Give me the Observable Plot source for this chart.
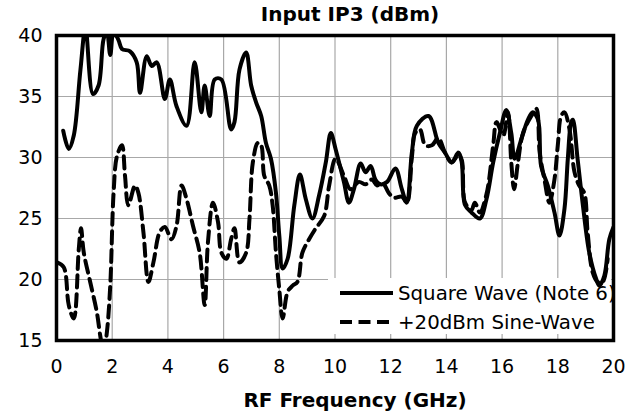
<!DOCTYPE html>
<html>
<head>
<meta charset="utf-8">
<script src="https://cdn.jsdelivr.net/npm/d3@7"></script>
<script src="https://cdn.jsdelivr.net/npm/@observablehq/plot@0.6"></script>
<style>
  html, body { margin: 0; padding: 0; background: white; }
  #chart { width: 643px; height: 419px; }
</style>
</head>
<body>
<div id="chart"></div>
<script>
const title = "Input IP3 (dBm)";
const xLabel = "RF Frequency (GHz)";
const seriesNames = ["Square Wave (Note 6)", "+20dBm Sine-Wave"];
const xTicks = [0, 2, 4, 6, 8, 10, 12, 14, 16, 18, 20];
const yTicks = [15, 20, 25, 30, 35, 40];

// Square wave (solid)
const sqFreq = [0.24,0.44,0.62,0.86,1.04,1.31,1.51,1.69,1.81,1.93,2.05,2.23,2.35,2.64,2.88,3.0,3.24,3.42,3.6,3.89,4.07,4.31,4.67,4.96,5.2,5.32,5.5,5.68,5.92,6.27,6.39,6.57,6.81,6.99,7.17,7.35,7.52,7.7,7.88,8.0,8.12,8.3,8.54,8.74,8.95,9.19,9.43,9.67,9.85,10.02,10.32,10.5,10.68,10.92,11.1,11.28,11.45,11.63,11.87,12.17,12.4,12.58,12.76,12.94,13.36,13.71,13.95,14.19,14.43,14.55,14.67,14.9,15.2,15.44,15.68,15.92,16.15,16.33,16.45,16.69,16.93,17.1,17.29,17.4,17.64,17.88,18.06,18.24,18.36,18.48,18.54,18.71,18.89,19.13,19.37,19.49,19.67,19.85,20.0];
const sqIP3 = [32.2,30.7,31.8,37.2,40.6,35.2,35.9,39.7,40.3,38.4,40.3,39.6,38.9,38.7,37.8,35.3,38.3,37.5,37.8,34.8,36.4,34.2,32.6,37.8,33.7,35.9,33.4,36.4,36.4,32.3,32.9,37.2,38.6,35.9,34.5,33.4,31.2,29.9,27.1,23.6,20.9,21.7,26.1,28.6,26.6,25.0,26.9,29.6,32.0,30.7,28.0,26.3,27.4,29.5,28.8,29.3,28.2,27.8,28.0,29.1,27.4,26.3,30.4,32.6,33.4,31.2,30.4,29.6,30.4,29.6,26.1,25.5,25.0,26.6,29.6,32.0,33.9,32.0,29.9,31.5,33.1,33.7,33.1,29.3,27.7,25.5,23.6,25.8,29.9,32.9,33.1,29.9,26.3,22.2,20.1,19.5,20.3,23.3,24.3];

// +20dBm sine wave (dashed)
const sineFreq = [0.02,0.26,0.44,0.62,0.8,0.88,0.98,1.21,1.45,1.57,1.69,1.81,1.93,2.05,2.17,2.35,2.46,2.58,2.82,2.94,3.12,3.3,3.48,3.71,3.89,4.13,4.31,4.49,4.67,4.9,5.14,5.32,5.44,5.62,5.8,5.92,6.1,6.27,6.39,6.57,6.81,6.93,7.05,7.23,7.35,7.46,7.64,7.76,7.88,8.0,8.12,8.3,8.48,8.65,8.83,9.07,9.31,9.61,9.79,10.02,10.32,10.56,10.86,11.1,11.33,11.51,11.69,11.93,12.11,12.4,12.58,12.76,12.88,13.05,13.24,13.48,13.71,13.95,14.19,14.43,14.55,14.67,14.9,15.02,15.2,15.44,15.68,15.8,16.04,16.21,16.33,16.43,16.57,16.75,17.05,17.23,17.35,17.52,17.7,17.88,18.0,18.12,18.24,18.42,18.6,18.77,18.95,19.07,19.25,19.43,19.61,19.79];
const sineIP3 = [21.4,21.0,17.9,16.8,22.5,24.2,22.2,19.8,17.3,15.4,14.0,15.7,19.5,27.1,30.1,31.0,28.5,26.1,27.7,27.1,23.9,19.8,21.4,23.9,24.3,23.3,24.4,27.7,26.6,24.4,22.2,17.9,23.1,26.3,24.7,22.2,21.7,23.3,24.2,21.4,22.2,25.0,29.6,31.2,31.0,28.5,27.7,26.1,22.2,19.2,16.8,19.0,19.5,19.8,22.2,23.3,24.2,25.2,27.7,29.9,28.5,27.4,28.0,27.8,28.2,27.7,28.0,27.1,26.7,26.8,26.3,30.0,32.0,32.3,31.0,31.0,31.6,30.4,29.6,30.2,29.8,26.3,25.7,26.3,25.5,27.0,31.0,32.9,31.8,33.7,29.6,27.4,29.6,32.0,33.4,34.0,30.4,28.2,26.3,28.2,31.0,33.4,33.7,32.3,28.8,27.7,27.1,23.9,20.6,19.8,19.8,21.7];

const sqData = sqFreq.map((f, i) => ({f, v: sqIP3[i]}));
const sineData = sineFreq.map((f, i) => ({f, v: sineIP3[i]}));

const FONT = "DejaVu Sans";

function legend(index, scales, values, dimensions) {
  const {width, height, marginRight, marginBottom} = dimensions;
  const right = width - marginRight;
  const bottom = height - marginBottom;
  const ns = "http://www.w3.org/2000/svg";
  const g = document.createElementNS(ns, "g");
  const box = document.createElementNS(ns, "rect");
  box.setAttribute("x", right - 285);
  box.setAttribute("y", bottom - 62);
  box.setAttribute("width", 283);
  box.setAttribute("height", 56);
  box.setAttribute("fill", "white");
  box.setAttribute("stroke", "none");
  g.appendChild(box);
  const rows = [{dy: -47, dash: null}, {dy: -18, dash: "12,6.5"}];
  rows.forEach((r, i) => {
    const ln = document.createElementNS(ns, "line");
    ln.setAttribute("x1", right - 273);
    ln.setAttribute("x2", right - 220);
    ln.setAttribute("y1", bottom + r.dy);
    ln.setAttribute("y2", bottom + r.dy);
    ln.setAttribute("stroke", "black");
    ln.setAttribute("stroke-width", 4);
    if (r.dash) ln.setAttribute("stroke-dasharray", r.dash);
    g.appendChild(ln);
    const t = document.createElementNS(ns, "text");
    t.setAttribute("x", right - 215);
    t.setAttribute("y", bottom + r.dy + 7);
    t.setAttribute("font-size", 19.8);
    t.setAttribute("font-family", FONT);
    t.setAttribute("text-anchor", "start");
    t.setAttribute("fill", "black");
    t.textContent = seriesNames[i];
    g.appendChild(t);
  });
  return g;
}

const chart = Plot.plot({
  width: 643,
  height: 419,
  marginTop: 35,
  marginLeft: 56,
  marginRight: 30,
  marginBottom: 79,
  style: {fontFamily: FONT, fontSize: "19px", color: "black", background: "white", overflow: "visible"},
  x: {domain: [0, 20], ticks: xTicks, tickSize: 0, tickPadding: 19, label: null},
  y: {domain: [15, 40], ticks: yTicks, tickSize: 0, tickPadding: 14, label: null},
  marks: [
    Plot.ruleX(xTicks, {stroke: "#a8a8a8", strokeWidth: 1.2}),
    Plot.ruleY(yTicks, {stroke: "#a8a8a8", strokeWidth: 1.2}),
    legend,
    Plot.line(sineData, {x: "f", y: "v", stroke: "black", strokeWidth: 4, strokeDasharray: "12,6.5", curve: "catmull-rom", clip: true}),
    Plot.line(sqData, {x: "f", y: "v", stroke: "black", strokeWidth: 4, curve: "catmull-rom", clip: true}),
    Plot.frame({stroke: "black", strokeWidth: 3.5}),
    Plot.text([title], {frameAnchor: "top", lineAnchor: "middle", dx: 15, dy: -21, fontWeight: "bold", fontSize: 20, fill: "black"}),
    Plot.text([xLabel], {frameAnchor: "bottom", lineAnchor: "middle", dx: 20, dy: 60, fontWeight: "bold", fontSize: 20, fill: "black"})
  ]
});
document.getElementById("chart").appendChild(chart);
</script>
</body>
</html>
